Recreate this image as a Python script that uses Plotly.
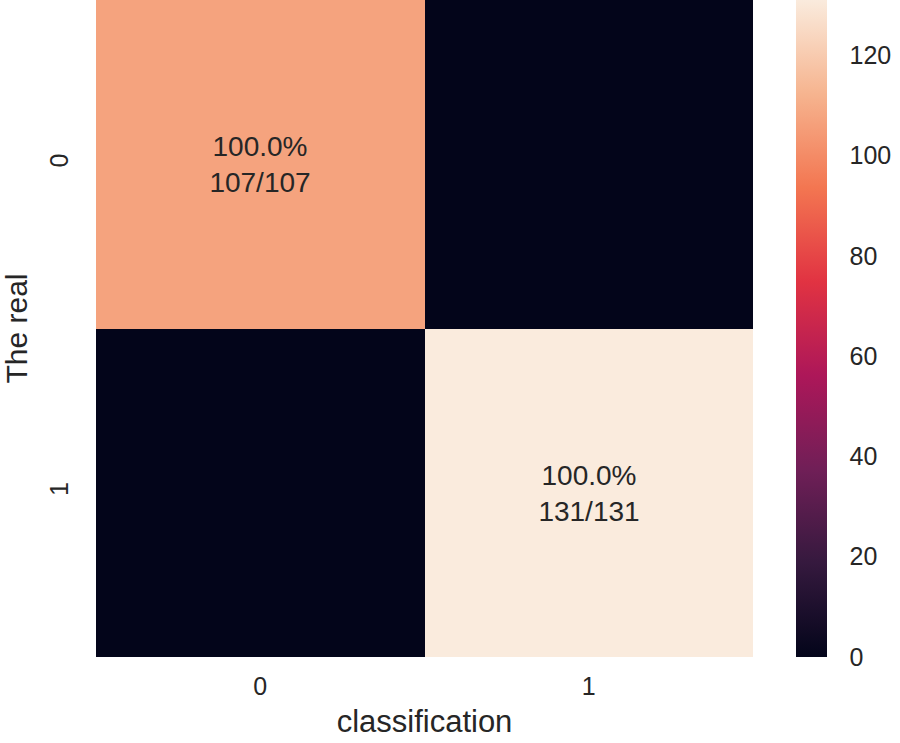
import plotly.graph_objects as go

# confusion matrix values
labels = ['0', '1']
counts = [[107, 0],
          [0, 131]]
cell_text = [['100.0%<br>107/107', ''],
             ['', '100.0%<br>131/131']]
cbar_ticks = [0, 20, 40, 60, 80, 100, 120]

# seaborn "rocket" colormap, sampled
rocket = [
    [0.0, '#03051a'],
    [0.1429, '#35193e'],
    [0.2857, '#701f57'],
    [0.4286, '#ad1759'],
    [0.5714, '#e13342'],
    [0.7143, '#f37651'],
    [0.8571, '#f6b48f'],
    [1.0, '#faebdd'],
]

txt_color = '#262626'
font_name = 'Liberation Sans, Arial, sans-serif'

fig = go.Figure(go.Heatmap(
    z=counts,
    x=labels,
    y=labels,
    text=cell_text,
    texttemplate='%{text}',
    textfont=dict(size=28, color=txt_color, family=font_name),
    colorscale=rocket,
    zmin=0,
    zmax=max(max(r) for r in counts),
    colorbar=dict(
        x=1.065, xanchor='left', xpad=0,
        y=0.5, yanchor='middle', len=1.0, lenmode='fraction',
        ypad=0,
        thickness=31,
        outlinewidth=0,
        tickvals=cbar_ticks,
        ticks='outside', ticklen=18, tickcolor='rgba(0,0,0,0)',
        tickfont=dict(size=25, color=txt_color, family=font_name),
    ),
))

fig.update_layout(
    width=900, height=743,
    margin=dict(l=96, r=147, t=0, b=86),
    plot_bgcolor='white',
    paper_bgcolor='white',
    font=dict(family=font_name, color=txt_color),
    xaxis=dict(
        title=dict(text='classification', font=dict(size=31), standoff=11),
        tickfont=dict(size=25),
        ticklabelstandoff=12,
        showgrid=False, zeroline=False, ticks='',
    ),
    yaxis=dict(
        title=dict(text='The real', font=dict(size=30), standoff=16),
        tickfont=dict(size=25),
        tickangle=-90,
        ticklabelstandoff=22,
        autorange='reversed',
        showgrid=False, zeroline=False, ticks='',
    ),
)

fig.write_html("out.html", config={'displayModeBar': False},
               post_script="document.body.style.margin='0';")
